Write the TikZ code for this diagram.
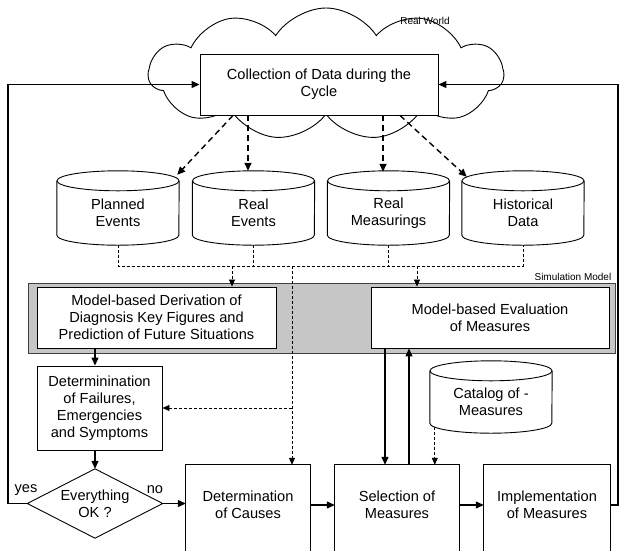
\documentclass[tikz,border=0pt]{standalone}
\usepackage{fontspec}
\setmainfont{Liberation Sans}
\usetikzlibrary{shapes.symbols,arrows.meta,calc}
\newcommand{\mainfs}{\fontsize{14.6}{17}\selectfont}
\newcommand{\smallfs}{\fontsize{10}{11}\selectfont}
\newcommand{\drawdb}[1]{%
  \draw[dbline] (#1.north west) -- ($(#1.south west)+(0,-10)$) arc[start angle=180, end angle=360, x radius=61pt, y radius=10pt] -- (#1.north east);
  \draw[dbline] (#1.north) ellipse[x radius=61pt, y radius=10pt];}
\begin{document}
\begin{tikzpicture}[x=1pt,y=-1pt,
  box/.style={draw, line width=0.9pt, fill=white, align=center, inner sep=0pt, font=\mainfs},
  plain/.style={align=center, inner sep=0pt, font=\mainfs},
  dbnode/.style={align=center, inner sep=0pt, font=\mainfs, minimum width=122pt, minimum height=64pt},
  dbline/.style={line width=0.9pt},
  boxline/.style={line width=0.9pt},
  arr/.style={-{Triangle[length=8pt,width=7pt]}, line width=1.2pt},
  hdash/.style={arr, dash pattern=on 6pt off 4pt, line width=1.4pt},
  tdash/.style={line width=0.8pt, dash pattern=on 3pt off 2pt},
  tarr/.style={tdash, -{Triangle[length=7pt,width=6pt]}}]
\clip (0,0) rectangle (622,550);
\fill[white] (0,0) rectangle (622,550);
% cloud
\node[cloud, draw, fill=white, line width=0.9pt, cloud puffs=11, cloud puff arc=115, aspect=2.6,
      minimum width=355pt, minimum height=132pt, inner sep=0pt] (world) at (326,74) {};
\node[font=\smallfs, inner sep=0pt] (wlabel) at (425,21) {Real World};
\node[box, minimum width=238pt, minimum height=61pt] (coll) at (319,84.5) {Collection of Data during the\\Cycle};
% databases
\node[dbnode] (pe) at (118,213) {Planned\\Events};
\node[dbnode] (rev) at (253.5,213) {Real\\Events};
\node[dbnode] (rms) at (388.5,213) {Real\\Measurings};
\node[dbnode] (hist) at (523,213) {Historical\\Data};
\drawdb{pe}\drawdb{rev}\drawdb{rms}\drawdb{hist}
% simulation model
\node[draw=black!75, fill=gray!45, line width=1pt, minimum width=587pt, minimum height=70pt, inner sep=0pt] (sim) at (321.5,318) {};
\node[font=\smallfs, anchor=south east, inner sep=0pt] (simlbl) at ($(sim.north east)+(-4,-2)$) {Simulation Model};
\node[box, minimum width=239pt, minimum height=61pt] (deriv) at (156.5,317.5) {Model-based Derivation of\\Diagnosis Key Figures and\\Prediction of Future Situations};
\node[box, minimum width=238pt, minimum height=61pt] (evalm) at (490,317.5) {Model-based Evaluation\\of Measures};
% lower part
\node[box, minimum width=125pt, minimum height=84pt] (determ) at (99.5,408) {Determinination\\of Failures,\\Emergencies\\and Symptoms};
\node[plain, minimum width=135pt, minimum height=69pt] (dia) at (95,503.5) {Everything\\OK ?};
\draw[boxline] (dia.west) -- (dia.north) -- (dia.east) -- (dia.south) -- cycle;
\node[plain] (yeslbl) at (26,490) {yes};
\node[plain] (nolbl) at (155,490) {no};
\node[plain, minimum width=124pt, minimum height=80pt] (causes) at (248,505) {Determination\\of Causes};
\node[plain, minimum width=124pt, minimum height=80pt] (sel) at (397,505) {Selection of\\Measures};
\node[plain, minimum width=126pt, minimum height=80pt] (impl) at (547,505) {Implementation\\of Measures};
\foreach \b in {causes,sel,impl}{
  \draw[boxline] ($(\b.south west)+(0,30)$) |- (\b.north east) -- ($(\b.south east)+(0,30)$);}
\node[dbnode, minimum height=62pt] (cat) at (491,402) {Catalog of -\\Measures};
\drawdb{cat}
% heavy dashed arrows
\coordinate (c2) at ($(coll.south)+(-71,0)$);
\coordinate (c3) at ($(coll.south)+(64,0)$);
\draw[hdash] ($(coll.south)+(-86,0)$) -- ($(pe.north east)+(-2,-6)$);
\draw[hdash, shorten >=10pt] (c2) -- (c2 |- rev.north);
\draw[hdash, shorten >=9pt] (c3) -- (c3 |- rms.north);
\draw[hdash] ($(coll.south)+(81,0)$) -- ($(hist.north west)+(5,-4)$);
% thin dashed bus
\coordinate (bus) at (0,266);
\draw[tdash] (pe.south) |- (hist.south |- bus) -- (hist.south);
\draw[tdash] (rev.south) -- (rev.south |- bus);
\draw[tdash] (rms.south) -- (rms.south |- bus);
\coordinate (t1) at (232,266);
\coordinate (t2) at (417,266);
\coordinate (t3) at (292,266);
\draw[tarr] (t1) -- (t1 |- deriv.north);
\draw[tarr] (t2) -- (t2 |- evalm.north);
\draw[tarr] (t3) -- (t3 |- causes.north);
\draw[tarr] (t3 |- determ.east) -- (determ.east);
% solid arrows
\draw[arr] (deriv.south -| dia.north) -- (determ.north -| dia.north);
\draw[arr] (determ.south -| dia.north) -- (dia.north);
\draw[arr] (dia.east) -- (dia.east -| causes.west);
\draw[arr] (causes.east) -- (sel.west);
\draw[arr] (sel.east) -- (impl.west);
\coordinate (rl) at (618,505);
\coordinate (ll) at (8,503.5);
\draw[arr] (impl.east) -- (rl) |- (coll.east);
\draw[arr] (dia.west) -- (ll) |- (coll.west);
\coordinate (sd) at ($(sel.north)+(-12,0)$);
\coordinate (su) at ($(sel.north)+(12,0)$);
\draw[arr] (sd |- evalm.south) -- (sd);
\draw[arr] (su) -- (su |- evalm.south);
\coordinate (cs) at ($(cat.south west)+(5,-6)$);
\draw[tarr] (cs) -- (cs |- sel.north);
\end{tikzpicture}
\end{document}
